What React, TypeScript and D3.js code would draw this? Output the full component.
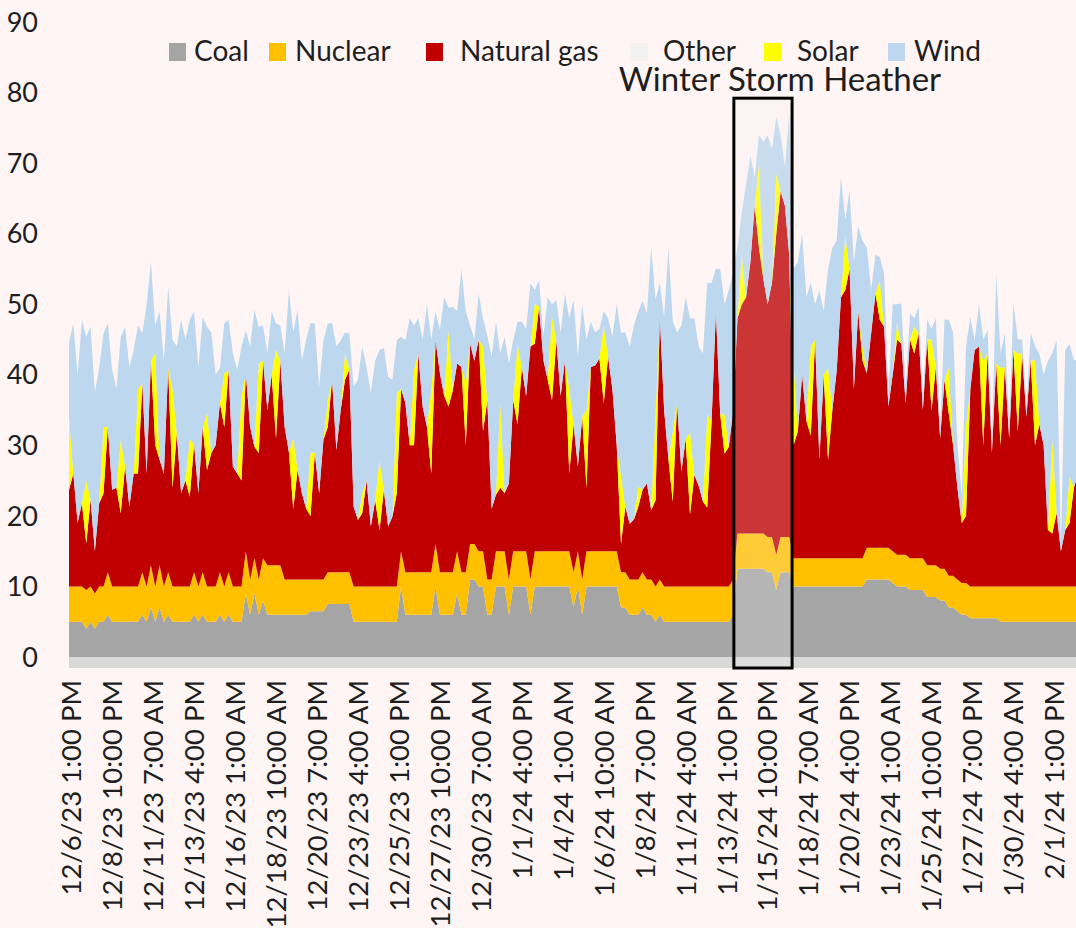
import React from 'react';
import * as d3 from 'd3';

// ---- Data: 6-hourly samples starting 12/6/23 1:00 PM (GW) ----
const coal = [
  5,5,5,5, 4,5,4,5, 5,6,5,5, 5,5,5,5, 5,6,5,7, 5,7,5,6, 5,5,5,5, 5,6,5,6,
  5,5,5,6, 5,6,5,5, 5,9,6,9, 6,8,6,6, 6,6,6,6, 6,6,6,6, 6.5,6.5,6.5,6.5,
  7.5,7.5,7.5,7.5, 7.5,7.5,5,5, 5,5,5,5, 5,5,5,5, 5,10,6,6, 6,6,6,6,
  6,10,6,6, 6,6,9,6, 6,11,11,10, 10,6,6,10, 10,10,6,10, 10,10,10,6,
  10,10,10,10, 10,10,10,10, 10,7,10,6, 10,10,10,10, 10,10,10,10, 7,7,6,6,
  6,7,6,6, 5,6,5,5, 5,5,5,5, 5,5,5,5, 5,5,5,5, 5,5,6,12.5,
  12.5,12.5,12.5,12.5, 12.5,12.5,12,12, 9.5,12,12,12, 10,10,10,10, 10,10,10,10,
  10,10,10,10, 10,10,10,10, 10,11,11,11, 11,11,11,10.5, 10,10,10,9.5,
  9.5,9.5,9.5,8.5, 8.5,8.5,8,8, 7,7,6.5,6, 6,5.5,5.5,5.5, 5.5,5.5,5.5,5.5,
  5,5,5,5, 5,5,5,5, 5,5,5,5, 5,5,5,5, 5,5,5,
];
const nuclear = [
  5,5,5,5, 5.5,5,5,5, 5,6,5,5, 5,5,5,5, 5,6,5,6, 5,6,5,6, 5,5,5,5, 5,6,5,6,
  5,5,5,6, 5,6,5,5, 5,6,5,5, 5,6,7,7, 7,7,5,5, 5,5,5,5, 4.5,4.5,4.5,4.5,
  4.5,4.5,4.5,4.5, 4.5,4.5,5,5, 5,5,5,5, 5,5,5,5, 5,5,6,6, 6,6,6,6,
  6,6,6,6, 6,6,6,6, 6,5,5,5, 5,5,5,5, 5,5,5,5, 5,5,5,5,
  5,5,5,5, 5,5,5,5, 5,5,5,5, 5,5,5,5, 5,5,5,5, 5,5,5,5,
  5,5,5,5, 5,5,5,5, 5,5,5,5, 5,5,5,5, 5,5,5,5, 5,5,5,5,
  5,5,5,5, 5,5,5,5, 5,5,5,5, 4,4,4,4, 4,4,4,4,
  4,4,4,4, 4,4,4,4, 4,4.5,4.5,4.5, 4.5,4.5,4.5,4.5, 4.5,4.5,4.5,4.5,
  4.5,4.5,4.5,4.5, 4.5,4.5,4.5,4.5, 4.5,4.5,4.5,4.5, 4.5,4.5,4.5,4.5, 4.5,4.5,4.5,4.5,
  5,5,5,5, 5,5,5,5, 5,5,5,5, 5,5,5,5, 5,5,5,
];
const naturalGas = [
  13.7,16,9,11.8, 6.6,12.3,6,11.8, 13.2,20.6,13.7,14, 10.4,17,11.3,16, 16,26.8,16,29,
  20,15,16,29, 14,21.7,13.2,15, 12.7,18.2,13.2,20.6, 16.5,18.9,20,24, 22.6,28.6,17,16,
  15,25.2,21.6,15.8, 17.9,28,22,27, 18,29,21.6,18, 10,15.5,12.2,10, 9,17.9,12.2,19.8,
  20.6,27.3,17.3,23, 27.3,28.7,11.3,9.4, 10.4,15,8.5,12.2, 8,13.7,8.5,9.9, 13.2,23,24,18,
  18,31,23.5,20.6, 14,28.9,28.2,25, 23.5,25.8,26.6,29.1, 18,28.4,26,30, 17,25.4,10,8,
  9,8.2,13.6,21.4, 18,26.1,22,33, 29.4,34.6,27.1,24.3, 21.4,29.9,22,27.1, 11,21,12,23,
  9,26.1,26.3,27.3, 21,27.6,23,15, 4,9.3,7.9,8.5, 10.3,11.7,13.6,9.8, 12.2,37.2,25,18,
  12,26,16.3,20.9, 10.2,15.8,14.3,12, 11.2,23.4,39,24.4, 18.8,19.8,23.9,30.5,
  32.5,33.5,38.5,46.5, 40.5,36.1,33,36, 45.5,49,47,40, 16,18,26,19.4, 17.4,31,14,26,
  14,21,26.5,37, 38,41,24,35, 28,24.7,30.4,36, 32.3,31.3,20,25, 30.5,29.9,21.5,31,
  29,31.9,21,32, 22,28.1,18.5,26.8, 23,18.5,13,8.5, 9.5,28,33.5,34, 20,33,19,31.6,
  20,31.1,21,33.5, 22,33,24,32.1, 20,23,20,8, 7.5,10.4,5,8, 9,14,16,
];
const solar = [
  10.3,0,0,0, 8.9,0,0,0, 9.4,0,0,0, 10.4,0,0,0, 12,0,0,0, 13,0,0,0, 14,0,0,0, 8.1,0,0,0,
  8,0,0,0, 7.6,0,0,0, 12,0,0,0, 12.7,0,0,0, 12.5,0,0,0, 10,0,0,0, 9,0,0,0,
  3.8,0,0,0, 3.7,0,0,0, 2.8,0,0,0, 9.9,0,0,0, 14.2,0,0,0, 10.7,0,0,0,
  11.8,0,0,0, 10.8,0,0,0, 8.8,0,0,0, 12,0,0,0, 12,0,0,0, 11.4,0,0,0,
  5.7,0,0,0, 11.8,0,0,0, 12,0,0,0, 11,0,0,0, 11,0,0,0, 9.6,0,0,0,
  2.8,0,0,0, 12.3,0,0,0, 10,0,0,0, 11.7,0,0,0, 13.2,0,0,0, 5.6,0,0,0,
  7,0,0,0, 12,0,0,0, 8.5,0,0,0, 12,0,0,0, 12.6,0,0,0,
  13,0,0,0, 7.7,0,0,0, 2,0,0,0, 5.6,0,0,0, 2.3,0,0,0,
  3.8,0,0,0, 10,0,0,0, 6.5,0,0,0, 13,0,0,0, 12,0,0,0,
  11,0,0,0, 11,0,0,0, 12,0,0,0, 13.3,0,0,0, 6.6,0,0,
];
const wind = [
  10.5,21.3,21,26, 20.4,24.5,22.5,19.2, 13.3,14.7,17,14, 14.6,19.8,19.7,17.5, 9,7.1,23.9,14,
  4,21,16,11.5, 7,12.3,24.6,20, 17,18.8,17.8,15.6, 12.3,17.1,10,5, 7.1,7.2,16,14.7,
  7,6.1,11.4,19.4, 5.2,5,8,9, 3.8,5,10.4,23, 15,22.7,18.8,24, 18.3,18.4,15.1,14.1,
  10.9,8,14.7,9.9, 3,5.2,17,19.9, 20.8,16,19,19.8, 15.6,20.1,21.2,19.4, 7.5,7.4,8.9,18,
  6.3,5,9.5,17.4, 7.2,4.1,6.1,14, 3.2,11.8,7.4,13.9, 10.2,2.6,3,6.5, 4,9.1,21.6,24.5,
  7,22.2,17,8.5, 3.1,6.4,9.5,9, 1.9,3.8,3.3,11.7, 1.8,5.7,9,9.4, 10,17.6,15.6,16,
  10,6.4,4.7,4.2, 2,5.4,7.4,20, 20.4,24.7,25.1,27.5, 24.9,26.8,24.1,37.2, 16.1,4.8,13.2,30,
  15.6,10,20.7,20.1, 16.1,22.2,19.7,21, 18.6,19.6,6,20.6, 15.6,22.2,19.7,10,
  6,16,15,4, 4,19.4,24,19, 8,8,5.5,20, 13,24,20,17.6, 9,5,24,9,
  14,23,18.5,17, 2.3,11,18,12, 15,17.8,6.1,5.5, 3.3,7.6,1.5,10, 2.7,5.7,2,3.7,
  1.2,3.7,1.5,2.8, 1.5,6.9,1,8.5, 6.8,16,6,4, 11,10.2,1.4,6, 3,3.3,1,12.8,
  2,4.8,2,6.6, 2,2,1.5,3.9, 2,10,10,24, 12.2,24.5,1,25.5, 18.8,18.1,16,
];

const tickLabels = [
  '12/6/23 1:00 PM', '12/8/23 10:00 PM', '12/11/23 7:00 AM', '12/13/23 4:00 PM',
  '12/16/23 1:00 AM', '12/18/23 10:00 AM', '12/20/23 7:00 PM', '12/23/23 4:00 AM',
  '12/25/23 1:00 PM', '12/27/23 10:00 PM', '12/30/23 7:00 AM', '1/1/24 4:00 PM',
  '1/4/24 1:00 AM', '1/6/24 10:00 AM', '1/8/24 7:00 PM', '1/11/24 4:00 AM',
  '1/13/24 1:00 PM', '1/15/24 10:00 PM', '1/18/24 7:00 AM', '1/20/24 4:00 PM',
  '1/23/24 1:00 AM', '1/25/24 10:00 AM', '1/27/24 7:00 PM', '1/30/24 4:00 AM',
  '2/1/24 1:00 PM',
];
const tickStepHours = 57;
const yTicks = [0, 10, 20, 30, 40, 50, 60, 70, 80, 90];

const legendNames = ['Coal', 'Nuclear', 'Natural gas', 'Other', 'Solar', 'Wind'];
const legendColors = ['#a5a5a5', '#ffc000', '#c00000', '#f2f2f2', '#ffff00', '#bdd7ee'];

const stormStartHour = 925;
const stormEndHour = 1006;
const stormTop = 79.2;

const keys = ['coal', 'nuclear', 'gas', 'solar', 'wind'];
const keyColors: Record<string, string> = {
  coal: '#a5a5a5', nuclear: '#ffc000', gas: '#c00000', solar: '#ffff00', wind: '#bdd7ee',
};

const FONT = 'Lato, "Open Sans", sans-serif';
const TXT = '#1e1e1e';

export default function App() {
  const W = 1076, H = 928;
  const left = 69, right = 1076;
  const x = d3.scaleLinear().domain([0, 1401]).range([left, right]);
  const y = d3.scaleLinear().domain([0, 90]).range([657, 22]);

  const rows = coal.map((c, i) => ({
    h: i * 6,
    coal: c,
    nuclear: nuclear[i],
    gas: naturalGas[i],
    solar: solar[i],
    wind: wind[i],
  }));
  const stacked = d3.stack<any>().keys(keys)(rows);
  const area = d3.area<any>()
    .x((d: any) => x(d.data.h))
    .y0((d: any) => y(d[0]))
    .y1((d: any) => y(d[1]));

  const bandBottom = y(-1.56);
  const legendSquareX = [169, 269, 426, 631, 764, 888];
  const legendTextX = [194, 295, 460, 663, 797, 914];

  return (
    <div style={{ position: 'absolute', left: 0, top: 0 }}>
      <svg width={W} height={H} style={{ display: 'block' }}>
        <rect x={0} y={0} width={W} height={H} fill="#fff5f5" />
        <defs>
          <clipPath id="plotClip">
            <rect x={left} y={0} width={right - left} height={y(0)} />
          </clipPath>
        </defs>
        <rect x={left} y={y(0)} width={right - left} height={bandBottom - y(0)} fill="#d9d9d9" />
        <g clipPath="url(#plotClip)">
          {stacked.map((s: any) => (
            <path key={s.key} d={area(s) || ''} fill={keyColors[s.key]} stroke="none" />
          ))}
        </g>
        {/* storm box */}
        <rect
          x={x(stormStartHour)}
          y={y(stormTop)}
          width={x(stormEndHour) - x(stormStartHour)}
          height={bandBottom - y(stormTop)}
          fill="#f2f2f2"
          fillOpacity={0.22}
          stroke="#000"
          strokeWidth={3}
        />
        <text x={(x(stormStartHour) + x(stormEndHour)) / 2 + 17} y={91} textAnchor="middle"
          fontFamily={FONT} fontSize={33} fill={TXT}>Winter Storm Heather</text>
        {/* y axis labels */}
        {yTicks.map((t) => (
          <text key={t} x={38} y={y(t)} dy="0.36em" textAnchor="end"
            fontFamily={FONT} fontSize={27} fill={TXT}>{t}</text>
        ))}
        {/* x axis labels */}
        {tickLabels.map((lab, k) => {
          const tx = x(k * tickStepHours) + 12;
          return (
            <text key={lab} transform={`translate(${tx},680) rotate(-90)`} textAnchor="end"
              fontFamily={FONT} fontSize={27.5} fill={TXT}>{lab}</text>
          );
        })}
        {/* legend */}
        {legendNames.map((n, i) => (
          <g key={n}>
            <rect x={legendSquareX[i]} y={43} width={17} height={18} fill={legendColors[i]} />
            <text x={legendTextX[i]} y={61} fontFamily={FONT} fontSize={28} fill={TXT}>{n}</text>
          </g>
        ))}
      </svg>
    </div>
  );
}
